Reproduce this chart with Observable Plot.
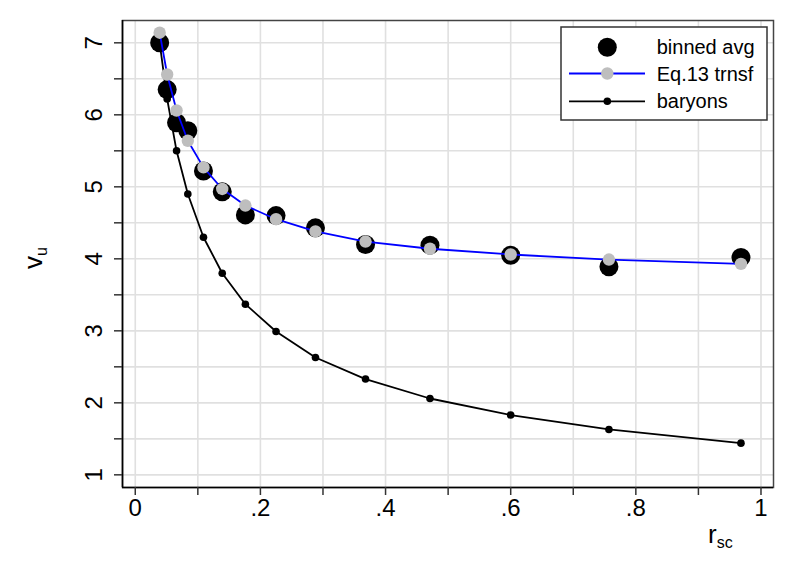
<!DOCTYPE html>
<html>
<head>
<meta charset="utf-8">
<script src="https://cdn.jsdelivr.net/npm/d3@7"></script>
<script src="https://cdn.jsdelivr.net/npm/@observablehq/plot@0.6"></script>
<style>
  html, body { margin: 0; padding: 0; background: white; }
  #chart { width: 793px; height: 577px; }
</style>
</head>
<body>
<div id="chart"></div>
<script>
// ---- data ----
const rsc       = [0.039, 0.051, 0.066, 0.084, 0.109, 0.139, 0.176, 0.225, 0.288, 0.368, 0.471, 0.600, 0.757, 0.968];
const binnedAvg = [7.00, 6.35, 5.89, 5.78, 5.22, 4.93, 4.61, 4.60, 4.43, 4.20, 4.19, 4.05, 3.89, 4.02];
const eq13      = [7.14, 6.56, 6.06, 5.64, 5.27, 4.97, 4.74, 4.55, 4.38, 4.24, 4.14, 4.06, 3.99, 3.93];
const baryons   = [7.00, 6.22, 5.50, 4.90, 4.30, 3.80, 3.37, 2.99, 2.63, 2.33, 2.06, 1.83, 1.63, 1.44];

const xTicks      = [0, 0.1, 0.2, 0.3, 0.4, 0.5, 0.6, 0.7, 0.8, 0.9, 1];
const xTickLabels = ["0", "", ".2", "", ".4", "", ".6", "", ".8", "", "1"];
const yTicks      = [1, 1.5, 2, 2.5, 3, 3.5, 4, 4.5, 5, 5.5, 6, 6.5, 7];
const yTickLabels = ["1", "", "2", "", "3", "", "4", "", "5", "", "6", "", "7"];

const seriesNames = ["binned avg", "Eq.13 trnsf", "baryons"];
const xTitle = ["r", "sc"];
const yTitle = ["v", "u"];

const xDomain = [-0.0204, 1.020];
const yDomain = [0.824, 7.31];

// ---- build tables ----
const rows = rsc.map((r, i) => ({r, binned: binnedAvg[i], eq: eq13[i], bar: baryons[i]}));
const xLab = new Map(xTicks.map((t, i) => [t, xTickLabels[i]]));
const yLabRows = yTicks.map((t, i) => ({v: t, label: yTickLabels[i]})).filter(d => d.label !== "");

const FONT = "'Liberation Sans', Arial, Helvetica, sans-serif";

const plot = Plot.plot({
  width: 793,
  height: 577,
  marginLeft: 122,
  marginRight: 20,
  marginTop: 20,
  marginBottom: 90,
  x: {domain: xDomain},
  y: {domain: yDomain},
  style: {fontFamily: FONT, background: "white", color: "black"},
  marks: [
    Plot.gridX(xTicks, {stroke: "#e0e0e0", strokeOpacity: 1, strokeWidth: 1.6}),
    Plot.gridY(yTicks, {stroke: "#e0e0e0", strokeOpacity: 1, strokeWidth: 1.6}),
    Plot.frame({stroke: "#444", strokeWidth: 1.5}),
    Plot.ruleY([yDomain[0]], {stroke: "black", strokeWidth: 1.6}),
    Plot.ruleX([xDomain[0]], {stroke: "black", strokeWidth: 1.6}),
    Plot.axisX(xTicks, {tickSize: 8, tickPadding: 3, strokeWidth: 1.5, stroke: "#333",
      tickFormat: d => xLab.get(d), fontSize: 24, label: null}),
    Plot.axisY(yTicks, {tickSize: 8, strokeWidth: 1.5, stroke: "#333",
      tickFormat: () => "", label: null}),
    Plot.text(yLabRows, {y: "v", text: "label", frameAnchor: "left", dx: -21,
      rotate: -90, textAnchor: "middle", lineAnchor: "bottom", fontSize: 24, fill: "black"}),
    // series
    Plot.dot(rows, {x: "r", y: "binned", r: 9.5, fill: "black", stroke: "none"}),
    Plot.line(rows, {x: "r", y: "bar", stroke: "black", strokeWidth: 1.8}),
    Plot.dot(rows, {x: "r", y: "bar", r: 3.8, fill: "black", stroke: "none"}),
    Plot.line(rows, {x: "r", y: "eq", stroke: "#0000ff", strokeWidth: 1.8}),
    Plot.dot(rows, {x: "r", y: "eq", r: 6.2, fill: "#bebebe", stroke: "none"})
  ]
});

document.getElementById("chart").appendChild(plot);

const svg = d3.select(plot);

// ---- axis titles ----
const xt = svg.append("text")
  .attr("x", 708).attr("y", 543)
  .attr("text-anchor", "start")
  .attr("font-family", FONT).attr("font-size", 26).attr("fill", "black");
xt.append("tspan").text(xTitle[0]);
xt.append("tspan").attr("font-size", 16).attr("dy", 5).text(xTitle[1]);

const yt = svg.append("text")
  .attr("transform", "translate(41.7,258) rotate(-90)")
  .attr("text-anchor", "middle")
  .attr("font-family", FONT).attr("font-size", 26).attr("fill", "black");
yt.append("tspan").text(yTitle[0]);
yt.append("tspan").attr("font-size", 16).attr("dy", 5).text(yTitle[1]);

// ---- legend ----
const lg = svg.append("g");
lg.append("rect").attr("x", 561).attr("y", 27).attr("width", 206).attr("height", 93)
  .attr("fill", "white").attr("stroke", "#333").attr("stroke-width", 1.5);
const ys = [47.3, 73.5, 101.3];
// entry 1: big dot
lg.append("circle").attr("cx", 607.3).attr("cy", ys[0]).attr("r", 9.5).attr("fill", "black");
// entry 2: blue line + gray dot
lg.append("line").attr("x1", 569).attr("x2", 645).attr("y1", ys[1]).attr("y2", ys[1])
  .attr("stroke", "#0000ff").attr("stroke-width", 1.8);
lg.append("circle").attr("cx", 607.3).attr("cy", ys[1]).attr("r", 6.2).attr("fill", "#bebebe");
// entry 3: black line + small dot
lg.append("line").attr("x1", 569).attr("x2", 645).attr("y1", ys[2]).attr("y2", ys[2])
  .attr("stroke", "black").attr("stroke-width", 1.8);
lg.append("circle").attr("cx", 607.3).attr("cy", ys[2]).attr("r", 3.8).attr("fill", "black");
seriesNames.forEach((name, i) => {
  lg.append("text").attr("x", 656.7).attr("y", ys[i] + 7)
    .attr("text-anchor", "start")
    .attr("font-family", FONT).attr("font-size", 20).attr("fill", "black").text(name);
});
</script>
</body>
</html>
